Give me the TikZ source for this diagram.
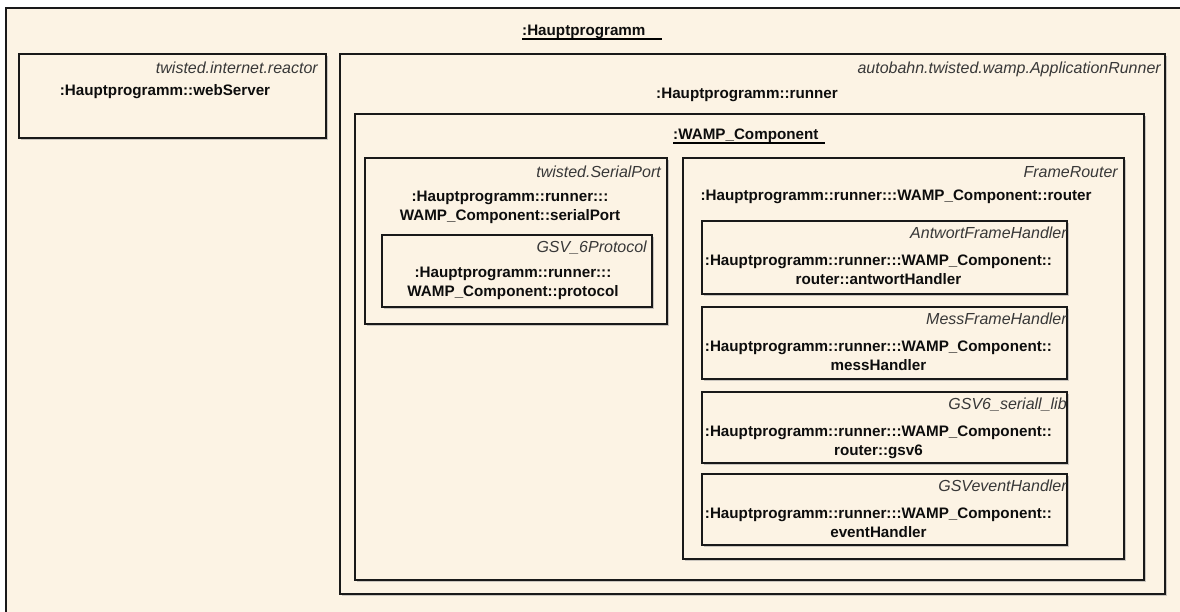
\documentclass[tikz,border=0pt]{standalone}
\usepackage{fontspec}
\setmainfont{Liberation Sans}
\usetikzlibrary{shadows}
\definecolor{umlbg}{RGB}{252,243,228}
\definecolor{umlline}{RGB}{25,25,25}

\begin{document}
\begin{tikzpicture}[x=1pt, y=-1pt,
	every node/.style={inner sep=0pt, font=\fontsize{15.2}{19}\selectfont},
	part/.style={draw=umlline, line width=1.9pt, fill=umlbg, anchor=north west,
		drop shadow={shadow xshift=2.2pt, shadow yshift=-2.2pt, fill=black!40}},
	stereo/.style={anchor=base east, text=black!78, font=\fontsize{16}{19}\selectfont\itshape},
	inst/.style={align=center, text=black!95, font=\fontsize{15.2}{19}\selectfont\bfseries}]
	\clip (0,0) rectangle (1180,611);
	\fill[white] (0,0) rectangle (1180,611);
	% parts, outer ones first
	\foreach \n/\xa/\ya/\xb/\yb in {main/5/7/1230/660, web/18/53/325/137, runner/339/53/1164/593,
		wamp/354/113/1143/579, serial/364/157/666/323, proto/381/234/651/306, router/682/157/1123/558,
		antwort/701/220/1066/293, mess/701/306/1066/378, gsvlib/701/391/1066/462, event/701/473/1066/544}
		\node[part, minimum width=\xb-\xa, minimum height=\yb-\ya] (\n) at (\xa,\ya) {};
	% names of the parts
	\node[inst, anchor=south west] (mainName) at (522,39) {:Hauptprogramm};
	\draw[line width=1.2pt] (mainName.south west) -- ++(140,0);
	\node[stereo] (webType) at (318,73) {twisted.internet.reactor};
	\node[inst, anchor=base] (webName) at (165,95) {:Hauptprogramm::webServer};
	\node[stereo] (runnerType) at (1161,73) {autobahn.twisted.wamp.ApplicationRunner};
	\node[inst, anchor=base] (runnerName) at (747,98) {:Hauptprogramm::runner};
	\node[inst, anchor=south west] (wampName) at (673,143) {:WAMP\_Component};
	\draw[line width=1.2pt] (wampName.south west) -- ++(152,0);
	\node[stereo] (serialType) at (661,177) {twisted.SerialPort};
	\node[inst, anchor=north] (serialName) at (510,191) {:Hauptprogramm::runner:::\\WAMP\_Component::serialPort};
	\node[stereo] (protoType) at (647,252) {GSV\_6Protocol};
	\node[inst, anchor=north] (protoName) at (513,267) {:Hauptprogramm::runner:::\\WAMP\_Component::protocol};
	\node[stereo] (routerType) at (1118,177) {FrameRouter};
	\node[inst, anchor=base] (routerName) at (896,200) {:Hauptprogramm::runner:::WAMP\_Component::router};
	\foreach \n/\t/\last in {antwort/AntwortFrameHandler/router::antwortHandler, mess/MessFrameHandler/messHandler,
		gsvlib/GSV6\_seriall\_lib/router::gsv6, event/GSVeventHandler/eventHandler} {
		\node[stereo] (\n Type) at ([xshift=-1pt, yshift=-18pt]\n.north east) {\t};
		\node[inst, anchor=north] (\n Name) at ([xshift=-6pt, yshift=-35pt]\n.north) {:Hauptprogramm::runner:::WAMP\_Component::\\\last};
	}
\end{tikzpicture}
\end{document}
